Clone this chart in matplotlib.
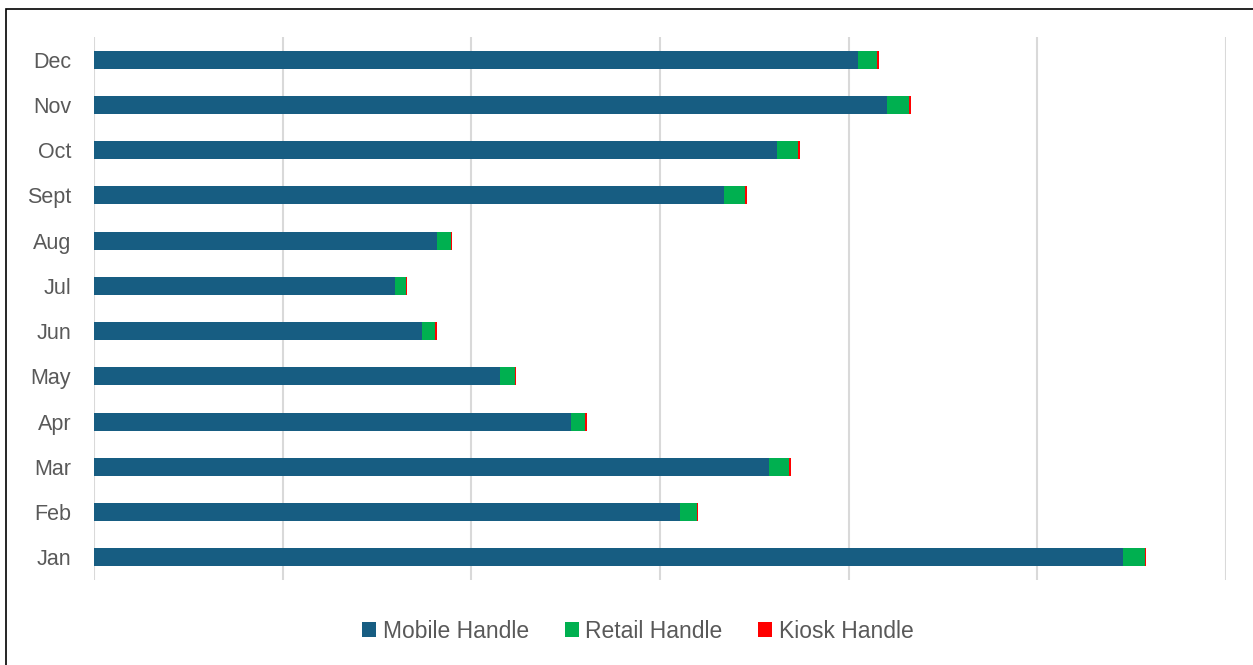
import matplotlib.pyplot as plt
import numpy as np
from matplotlib.patches import Rectangle

months = ["Jan", "Feb", "Mar", "Apr", "May", "Jun",
          "Jul", "Aug", "Sept", "Oct", "Nov", "Dec"]
mobile = [545.6, 310.8, 357.8, 252.8, 215.4, 174.0,
          159.7, 182.0, 333.9, 362.0, 420.3, 405.0]
retail = [11.3, 8.9, 10.8, 7.6, 8.0, 6.9,
          5.5, 7.3, 11.1, 11.1, 11.7, 10.2]
kiosk = [0.5, 0.5, 0.9, 0.7, 0.5, 0.9,
         0.7, 0.5, 0.9, 0.9, 1.1, 0.75]

c_mobile = '#175d82'
c_retail = '#00b050'
c_kiosk = '#ff0000'
txt = '#595959'

plt.rcParams['font.family'] = ['Liberation Sans', 'DejaVu Sans']

W, H = 1253, 665
fig = plt.figure(figsize=(W/100, H/100), dpi=100)
ax = fig.add_axes([94/W, 1-580/H, (1226-94)/W, (580-37)/H])

y = np.arange(len(months))
mobile = np.array(mobile)
retail = np.array(retail)
kiosk = np.array(kiosk)
ax.barh(y, mobile, height=0.4, color=c_mobile, label='Mobile Handle', zorder=3)
ax.barh(y, retail, left=mobile, height=0.4, color=c_retail, label='Retail Handle', zorder=3)
ax.barh(y, kiosk, left=mobile+retail, height=0.4, color=c_kiosk, label='Kiosk Handle', zorder=3)

ax.set_xlim(0, 600)
ax.set_ylim(-0.5, 11.5)
ax.set_xticks(np.arange(0, 601, 100))
ax.set_xticklabels([])
ax.set_yticks(y)
ax.set_yticklabels(months, color=txt, fontsize=15.5)
ax.tick_params(axis='both', length=0)
ax.tick_params(axis='y', pad=16.5)
ax.grid(axis='x', color='#d9d9d9', linewidth=1.5, zorder=0)
for s in ax.spines.values():
    s.set_visible(False)

leg = fig.legend(loc='center', bbox_to_anchor=(638/W, 1-631/H), ncol=3,
                 frameon=False, fontsize=16.5, handlelength=0.61, handleheight=0.61,
                 handletextpad=0.3, columnspacing=1.55)
for t in leg.get_texts():
    t.set_color(txt)

# outer frame
fig.patches.append(Rectangle((6/W, -0.01), 1.02, 1-8.5/H+0.01, transform=fig.transFigure,
                             fill=False, edgecolor='black', linewidth=1.2))

fig.savefig('out.png', dpi=100)
